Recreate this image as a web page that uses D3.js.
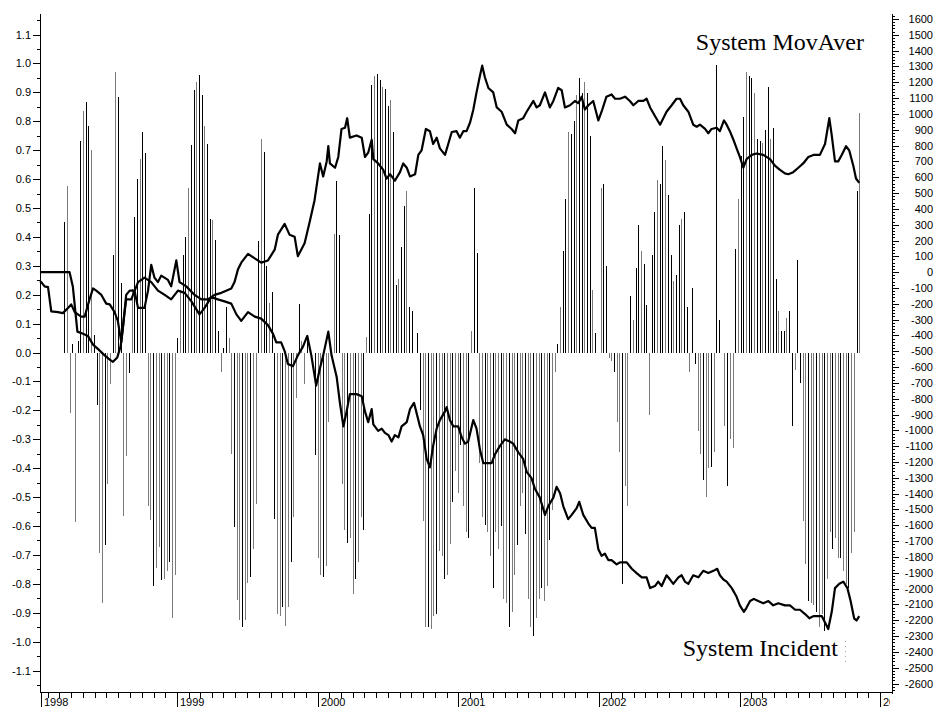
<!DOCTYPE html>
<html><head><meta charset="utf-8">
<script src="https://cdn.jsdelivr.net/npm/d3@7"></script>
<style>body{margin:0;background:#fff}svg{display:block}</style>
</head><body>
<svg id="chart" width="938" height="715"></svg>
<script>
// ---------------- data ----------------
const startDate = new Date(1998, 0, 10);   // week 0 of the weekly series

// weekly indicator bars (left axis), week 0 .. 304
const barValues = [
 0,0,0,0,0,0,0,0,0, .45, .575, -.21, .03, -.587, .04, .73, .837, .867, .785, .70,
 .06, -.18, -.695, -.867, -.665, -.456, -.11, .336, .969, .885, .24, -.564, -.359, -.07, .22, .468, .60, .668, .762, .69,
 -.53, -.58, -.807, -.747, -.673, -.788, -.785, -.755, -.725, -.92, -.77, .05, .217, .336, .40, .568, .718, .907, .934, .96,
 .889, .785, .722, .463, .459, .389, .075, -.067, .015, .157, .05, -.35, -.605, -.856, -.927, -.949, -.927, -.797, -.777, -.68,
 -.523, .384, .74, .695, .30, .17, .21, -.575, -.904, -.912, -.882, -.946, -.88, -.725, -.568, -.157, .169, .04, -.109, .06,
 0, 0, -.354, -.71, -.77, -.777, -.74, -.24, 0, .41, .593, .406, -.456, -.613, -.658, -.643, -.837, -.785, -.725, -.568,
 -.613, .055, .478, .927, .957, .964, .942, .919, .912, .852, .874, .762, .232, .254, .366, .508, .56, .157, .142, 0,
 .067, -.2, -.583, -.949, -.949, -.957, -.912, -.904, -.688, -.703, -.785, -.77, -.662, -.516, -.411, -.486, -.321, -.531, -.62, -.643,
 .075, .568, .344, -.381, -.568, -.598, -.62, -.703, -.815, -.62, -.68, -.6, -.852, -.867, -.949, -.897, -.77, -.665, -.53, -.486,
 -.628, -.852, -.949, -.979, -.919, -.852, -.815, -.86, -.807, -.65, -.545, -.067, .03, .157, .351, .53, .762, .755, .80, .889,
 .949, .897, .934, .897, .75, .217, .067, 0, .568, .583, .30, -.02, -.03, -.067, -.24, -.344, -.8, -.463, -.53, .194,
 .112, .291, .441, .351, .306, .164, -.217, .336, .486, .598, .583, .713, .665, .546, .336, .247, .269, .441, .463, .486,
 .157, -.067, .224, -.04, -.27, -.35, -.44, -.5, -.4, -.396, -.344, .994, .112, 0, -.254, -.463, -.3, -.33, .359, .53,
 .68, .815, .972, .957, .949, .897, .74, .732, .725, .77, .919, .74, .777, .254, .142, .075, .075, .12, .142, -.254,
 -.06, .321, -.105, -.583, -.733, -.86, -.867, -.874, -.897, -.949, -.904, -.964, -.785, -.62, -.68, -.643, -.71, -.71, -.755, -.80,
 -.815, -.695, -.62, .56, .83
];

// "System MovAver" equity line (right axis)
const movAverWeeks = [0,11,12.2,13.9,16,17.8,19.7,21.5,24,25.9,27.1,28.7,29.9,30.9,32,33.3,35.1,36.4,38.8,40.1,41.3,42.5,43.8,45,47.5,48.7,50.6,51.8,54.3,57.4,59.9,62.3,64.8,67.3,69.1,71,72.2,73.5,74.7,77.2,79.7,82.1,84.6,87.1,88.3,90.8,92.6,94.5,95.7,98.2,100.1,101.9,103.9,105.1,106.4,107,107.6,109.5,110.7,111.9,113.2,114,115,117.5,119.4,120.6,121.8,123.1,123.7,125.5,127.4,128.6,129.9,131.7,133.6,134.8,136.1,137.3,139.2,140.4,141.6,143.2,144.7,145.9,147.2,148.4,150.3,151.5,152.8,154.6,155.8,157.1,158.3,159.6,160.8,162,163.3,164.1,165.1,166.4,168.2,169.5,171.3,173.2,175,176.3,177.5,179.3,180.6,183.1,184.3,185.5,187.4,189.2,190.5,192.3,193.6,194.8,196.7,198.5,199.8,201,202.2,203.5,205.3,207.2,208.4,210.2,212.1,213.4,215.2,217.1,218.9,220.2,222,223.9,225.1,226.4,228.2,230.1,231.3,232.5,234.4,236.2,237.5,238.7,240.6,242.4,243.7,244.9,246.8,248,249.2,251.1,252.3,253.8,254.8,256,257.3,258.5,259.7,261,262.2,264.1,265.9,268.4,270.9,272.7,274.6,276.4,277.7,279.5,281.4,283.2,285.1,287,289.4,291.3,292.9,293.8,295,296.2,297.5,299.1,300.3,301.8,302.8,304];
const movAverValues = [0,0,-90,-376,-390,-403,-458,-485,-526,-553,-567,-539,-471,-335,-144,-117,-117,-226,-226,-117,46,-35,-63,-22,-49,-90,74,-63,-90,-144,-172,-172,-144,-131,-117,-103,-63,19,60,115,87,60,74,142,237,305,237,224,101,183,319,455,687,605,700,796,687,660,728,905,913,973,850,864,850,728,755,837,714,687,646,591,619,578,632,687,660,605,619,741,769,905,891,810,850,782,741,810,886,891,850,891,891,946,1027,1136,1245,1305,1232,1164,1136,1041,1014,932,905,878,959,973,1014,1082,1041,1055,1136,1041,1082,1164,1150,1041,1055,1082,1068,1109,1028,1055,1082,959,1014,1109,1123,1096,1096,1109,1082,1055,1082,1082,1096,1041,987,932,973,1014,1055,1096,1096,1055,1014,932,919,932,905,878,905,913,891,959,932,891,837,782,728,660,714,741,750,741,714,673,646,624,619,632,660,687,728,741,741,810,973,864,700,700,741,796,769,673,592,564];

// "System Incident" equity line (right axis)
const incidentWeeks = [0,0.5,1.7,3,4.2,6.7,8.5,10.4,11.6,12.9,15.3,16.6,18.4,19.7,20.9,22.8,24.6,25.9,27.7,28.9,30.2,31.2,32,33.9,36.4,38.8,41.3,43.8,46.3,48.7,51.2,53.7,56.2,59.2,61.1,63.6,66,68.5,71,72.9,74.7,77.2,79.7,82.1,84.6,86.5,87.7,89.5,90.8,92,93.9,95.7,97.6,99.2,100.7,102.5,103.9,105.1,107,108.2,110.1,111.3,112.6,113.8,115,117.5,119.4,120.6,121.8,123.1,123.7,125.5,126.8,128,129.3,130.5,131.7,133,134.2,136.1,137.3,138.8,140,141,142.2,143.5,144.7,145.9,147.2,148.4,150.3,150.9,152.1,153.4,155.2,156.5,157.7,158.9,160.8,162,163.3,164.5,165.7,167.6,168.8,170.7,172.5,174.4,175.6,177.5,179.3,180.6,182.4,183.7,185.5,187.4,188.6,190.5,191.7,193,194.2,196,197.3,199.1,200.1,201.6,203.5,204.7,205.9,207.2,208.4,209.6,210.9,212.1,214,215.2,217.7,219.6,221.4,223.3,225.1,226.4,228.2,229.4,230.7,232.5,233.8,235,236.9,238.1,239.3,240.6,242.4,244.3,246.1,248,249.9,251.3,252.3,253.6,254.8,256.7,258.5,259.7,261.2,262.2,263.5,264.9,266.5,268.4,270.3,272.1,274,276.4,278.3,280.2,282,283.9,285.5,287,288.8,290.1,291.3,292.5,293.8,295,296.6,298.1,299.6,300.8,302.1,303,304];
const incidentValues = [-57,-63,-90,-95,-248,-253,-259,-226,-204,-253,-281,-281,-172,-103,-117,-144,-199,-204,-253,-308,-444,-281,-172,-172,-63,-35,-63,-117,-144,-172,-117,-131,-185,-267,-226,-158,-172,-185,-199,-267,-308,-253,-281,-294,-335,-390,-444,-444,-499,-580,-594,-526,-471,-403,-526,-717,-608,-526,-376,-526,-662,-826,-975,-880,-771,-771,-785,-880,-948,-866,-962,-1003,-989,-1016,-1030,-1071,-1030,-1044,-975,-948,-866,-826,-907,-975,-1030,-1180,-1234,-1098,-989,-935,-880,-853,-935,-975,-975,-1044,-1084,-1071,-935,-989,-1125,-1207,-1207,-1207,-1153,-1098,-1057,-1071,-1084,-1139,-1180,-1262,-1302,-1371,-1425,-1534,-1480,-1425,-1357,-1398,-1480,-1561,-1534,-1493,-1452,-1534,-1589,-1616,-1616,-1752,-1793,-1779,-1820,-1820,-1847,-1834,-1834,-1875,-1902,-1929,-1929,-1997,-1984,-1956,-1984,-1916,-1943,-1970,-1929,-1916,-1956,-1970,-1916,-1929,-1888,-1902,-1888,-1875,-1916,-1943,-1956,-1997,-2052,-2106,-2147,-2120,-2079,-2065,-2079,-2093,-2079,-2106,-2093,-2106,-2106,-2134,-2134,-2161,-2188,-2174,-2174,-2174,-2215,-2256,-2147,-1997,-1970,-1956,-1997,-2079,-2188,-2202,-2174];

const leftTicks = [-1.1,-1.0,-0.9,-0.8,-0.7,-0.6,-0.5,-0.4,-0.3,-0.2,-0.1,0.0,0.1,0.2,0.3,0.4,0.5,0.6,0.7,0.8,0.9,1.0,1.1];
const leftMinorTicks = [-1.15,-1.05,-0.95,-0.85,-0.75,-0.65,-0.55,-0.45,-0.35,-0.25,-0.15,-0.05,0.05,0.15,0.25,0.35,0.45,0.55,0.65,0.75,0.85,0.95,1.05,1.15];
const rightTicks = [-2600,-2500,-2400,-2300,-2200,-2100,-2000,-1900,-1800,-1700,-1600,-1500,-1400,-1300,-1200,-1100,-1000,-900,-800,-700,-600,-500,-400,-300,-200,-100,0,100,200,300,400,500,600,700,800,900,1000,1100,1200,1300,1400,1500,1600];
const yearTicks = [new Date(1998,0,14), new Date(1999,0,1), new Date(2000,0,1), new Date(2001,0,1), new Date(2002,0,1), new Date(2003,0,1), new Date(2004,0,1)];
const yearLabels = ["1998","1999","2000","2001","2002","2003","2004"];
const seriesNames = ["System MovAver", "System Incident"];

// ---------------- layout ----------------
const L = 40, R = 892, T = 14, B = 692;
const svg = d3.select("#chart");
const x = d3.scaleTime().domain([new Date(1999,0,1), new Date(2003,0,1)]).range([177, 739.5]);
const yL = d3.scaleLinear().domain([-1.1, 1.1]).range([670.5, 34.5]);
const yR = d3.scaleLinear().domain([-2600, 1600]).range([683.5, 19]);
const weekDate = w => new Date(startDate.getTime() + w * 7 * 864e5);
const font = "'Liberation Sans', Arial, sans-serif";

// bars
const bars = svg.append("g").attr("shape-rendering", "crispEdges");
bars.selectAll("line").data(barValues.map((v, i) => ({v, i})).filter(d => d.v !== 0))
  .join("line")
  .attr("x1", d => Math.round(x(weekDate(d.i))) + 0.5)
  .attr("x2", d => Math.round(x(weekDate(d.i))) + 0.5)
  .attr("y1", yL(0))
  .attr("y2", d => yL(d.v))
  .attr("stroke", d => d.v > 0 ? (d.i % 3 === 1 ? "#7a7a7a" : "#000") : (d.i % 3 === 0 ? "#000" : "#7a7a7a"))
  .attr("stroke-width", 1);

// lines
const mkLine = d3.line().x(d => x(weekDate(d[0]))).y(d => yR(d[1]));
[[movAverWeeks, movAverValues], [incidentWeeks, incidentValues]].forEach(([w, v]) => {
  svg.append("path").datum(w.map((d, i) => [d, v[i]]))
    .attr("d", mkLine).attr("fill", "none").attr("stroke", "#000")
    .attr("stroke-width", 2.2).attr("stroke-linejoin", "round");
});

// axes
const ax = svg.append("g").attr("shape-rendering", "crispEdges").attr("stroke", "#000");
ax.append("line").attr("x1", L + .5).attr("x2", L + .5).attr("y1", T).attr("y2", B + .5);
ax.append("line").attr("x1", R + .5).attr("x2", R + .5).attr("y1", T).attr("y2", B + .5);
ax.append("line").attr("x1", L).attr("x2", R + 1).attr("y1", B + .5).attr("y2", B + .5);

// left ticks
ax.selectAll(".lt").data(leftTicks).join("line")
  .attr("x1", L - 7).attr("x2", L).attr("y1", d => Math.round(yL(d)) + .5).attr("y2", d => Math.round(yL(d)) + .5);
ax.selectAll(".lm").data(leftMinorTicks.filter(d => yL(d) > T && yL(d) < B)).join("line")
  .attr("x1", L - 3).attr("x2", L).attr("y1", d => Math.round(yL(d)) + .5).attr("y2", d => Math.round(yL(d)) + .5);
svg.append("g").selectAll("text").data(leftTicks).join("text")
  .attr("x", 31).attr("y", d => yL(d) + 4).attr("text-anchor", "end")
  .attr("font-family", font).attr("font-size", 11).attr("fill", "#000")
  .text(d => d.toFixed(1));

// right ticks
const rMinor = d3.range(-2640, 1621, 20).filter(d => d % 100 !== 0);
ax.selectAll(".rt").data(rightTicks).join("line")
  .attr("x1", R).attr("x2", R + 7).attr("y1", d => Math.round(yR(d)) + .5).attr("y2", d => Math.round(yR(d)) + .5);
ax.selectAll(".rm").data(rMinor.filter(d => yR(d) > T && yR(d) < B)).join("line")
  .attr("x1", R).attr("x2", R + 3).attr("y1", d => Math.round(yR(d)) + .5).attr("y2", d => Math.round(yR(d)) + .5);
svg.append("g").selectAll("text").data(rightTicks).join("text")
  .attr("x", 933).attr("y", d => yR(d) + 4).attr("text-anchor", "end")
  .attr("font-family", font).attr("font-size", 11).attr("fill", "#000")
  .text(d => String(d));

// bottom ticks
const months = d3.timeMonth.range(x.invert(L + 2), x.invert(R)).filter(d => d.getMonth() !== 0);
ax.selectAll(".bm").data(months).join("line")
  .attr("x1", d => Math.round(x(d)) + .5).attr("x2", d => Math.round(x(d)) + .5)
  .attr("y1", B).attr("y2", B + 6);
ax.selectAll(".by").data(yearTicks).join("line")
  .attr("x1", d => Math.round(x(d)) + .5).attr("x2", d => Math.round(x(d)) + .5)
  .attr("y1", B).attr("y2", B + 15);
svg.append("g").selectAll("text").data(yearTicks).join("text")
  .attr("x", d => Math.round(x(d)) + 3).attr("y", B + 14)
  .attr("font-family", font).attr("font-size", 11).attr("fill", "#000")
  .text((d, i) => yearLabels[i]);
// the last year label is cut at the right border of the plot, as in the original
svg.append("rect").attr("x", R - 2).attr("y", B + 2).attr("width", 938 - R + 2).attr("height", 715 - B - 2).attr("fill", "#fff");

// series labels
svg.append("text").attr("x", 864).attr("y", 50).attr("text-anchor", "end")
  .attr("font-family", "'Liberation Serif', 'Times New Roman', serif").attr("font-size", 24).attr("fill", "#000")
  .text(seriesNames[0]);
svg.append("text").attr("x", 838).attr("y", 656).attr("text-anchor", "end")
  .attr("font-family", "'Liberation Serif', 'Times New Roman', serif").attr("font-size", 24).attr("fill", "#000")
  .text(seriesNames[1]);
svg.append("line").attr("x1", 845.5).attr("x2", 845.5).attr("y1", 641).attr("y2", 662)
  .attr("stroke", "#aaa").attr("stroke-dasharray", "1,4");
</script>
</body></html>
